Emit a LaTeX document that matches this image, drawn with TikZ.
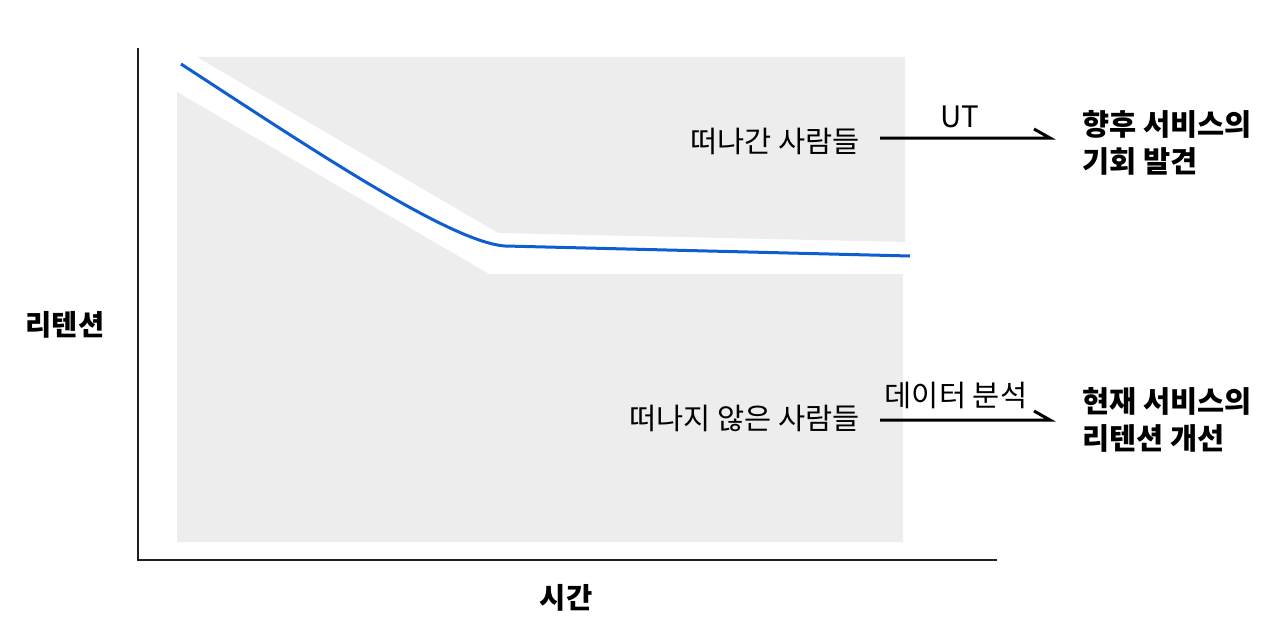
\documentclass[tikz,border=0pt]{standalone}
\usepackage{fontspec}
\setmainfont{Noto Sans CJK KR}
\definecolor{bandgray}{RGB}{237,237,237}
\definecolor{curveblue}{RGB}{14,94,208}
\definecolor{axisgray}{RGB}{30,30,30}
\tikzset{
  lbl/.style={inner sep=0pt, font=\fontsize{29.5}{34}\selectfont},
  res/.style={inner sep=0pt, align=left, font=\fontsize{29.5}{37}\selectfont\bfseries},
  axl/.style={inner sep=0pt, font=\fontsize{28.5}{32}\selectfont\bfseries},
  axisline/.style={draw=axisgray, line width=1.5pt},
  flowline/.style={draw=black, line width=3pt, line join=miter},
  curve/.style={draw=curveblue, line width=3pt},
}
\begin{document}
\begin{tikzpicture}[x=1pt,y=-1pt]
\useasboundingbox (0,0) rectangle (1280,642);
% gray regions
\fill[bandgray] (197,57) -- (905,57) -- (905,242) -- (498,233) -- cycle;
\fill[bandgray] (177,92) -- (489,274) -- (903,274) -- (903,542) -- (177,542) -- cycle;
% retention curve
\draw[curve] (181,64) .. controls (310,148) and (450,242) .. (505,246) -- (910,256);
% axes
\coordinate (origin) at (138,560);
\coordinate (ytop) at (138,48);
\coordinate (xend) at (997,560);
\draw[axisline] (ytop) -- (origin) -- (xend);
\node[axl] (ylab) at (65,325) {리텐션};
\node[axl] (xlab) at (566,598) {시간};
% upper group
\node[lbl, anchor=east] (leftA) at (860,141) {떠나간 사람들};
\node[lbl] (ut) at (960,117) {UT};
\node[res, anchor=west] (resA) at (1082,143) {향후 서비스의\\기회 발견};
\coordinate (sA) at (880,138);
\coordinate (eA) at (1050,138);
\draw[flowline] (sA) -- (eA) -- ++(-16,-9);
% lower group
\node[lbl, anchor=east] (leftB) at (860,418) {떠나지 않은 사람들};
\node[lbl] (da) at (956,395) {데이터 분석};
\node[res, anchor=west] (resB) at (1082,420) {현재 서비스의\\리텐션 개선};
\coordinate (sB) at (880,420);
\coordinate (eB) at (1050,420);
\draw[flowline] (sB) -- (eB) -- ++(-16,-9);
\end{tikzpicture}
\end{document}
